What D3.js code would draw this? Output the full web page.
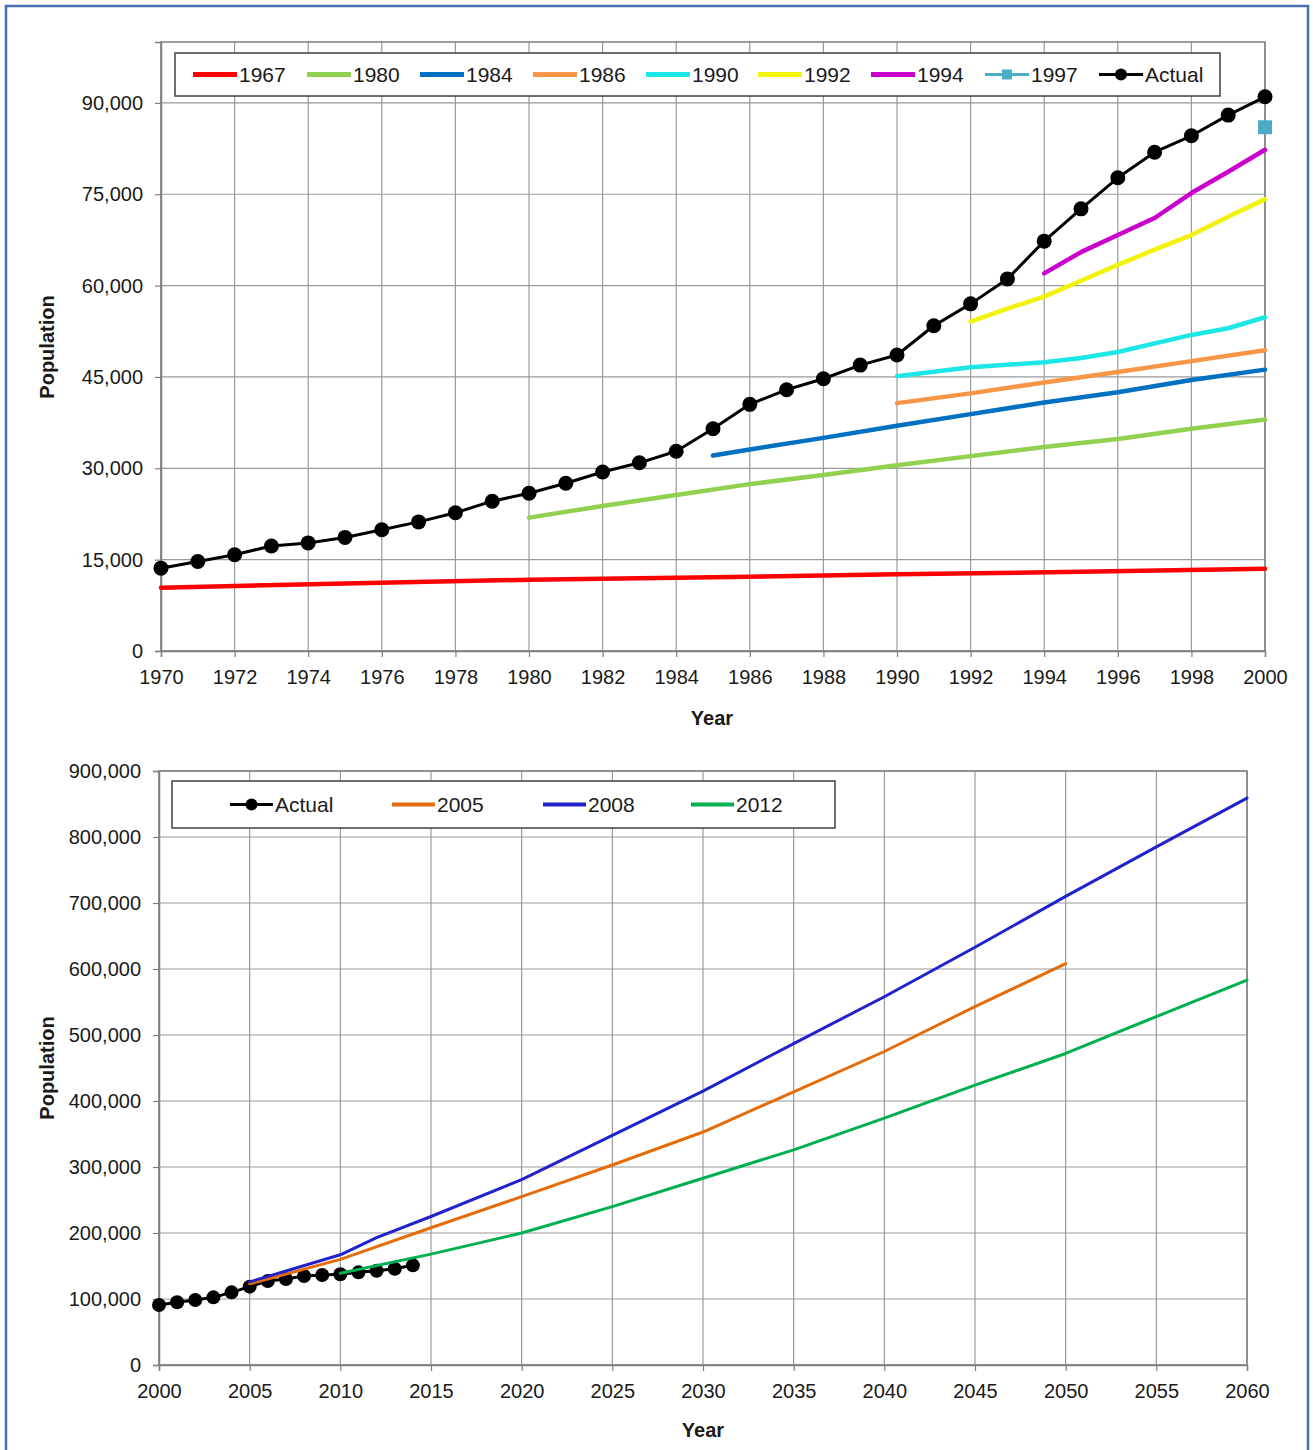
<!DOCTYPE html>
<html><head><meta charset="utf-8">
<script src="https://cdn.jsdelivr.net/npm/d3@7"></script>
<style>
body{margin:0;background:#fff;}
svg{display:block;}
text{font-family:"Liberation Sans",Arial,sans-serif;fill:#1a1a1a;}
</style>
</head><body>
<svg id="c" width="1313" height="1450"></svg>
<script>
// ---------------- DATA: top chart (1970-2000) ----------------
const topActualYears = [1970,1971,1972,1973,1974,1975,1976,1977,1978,1979,1980,1981,1982,1983,1984,1985,1986,1987,1988,1989,1990,1991,1992,1993,1994,1995,1996,1997,1998,1999,2000];
const topActualValues = [13600,14700,15800,17250,17750,18650,19900,21200,22700,24600,25900,27550,29400,30900,32800,36500,40500,42900,44700,46950,48600,53400,57000,61100,67300,72600,77700,81900,84600,88000,91000];

const p1967Years = [1970,1975,1980,1985,1990,1995,2000];
const p1967Values = [10400,11100,11700,12100,12600,13000,13500];

const p1980Years = [1980,1982,1984,1986,1988,1990,1992,1994,1996,1998,2000];
const p1980Values = [21900,23800,25600,27400,28900,30500,32000,33500,34800,36500,38000];

const p1984Years = [1985,1986,1988,1990,1992,1994,1996,1998,2000];
const p1984Values = [32100,33100,35000,37000,38900,40800,42500,44500,46200];

const p1986Years = [1990,1992,1994,1996,1998,2000];
const p1986Values = [40700,42300,44100,45800,47600,49400];

const p1990Years = [1990,1992,1994,1995,1996,1998,1999,2000];
const p1990Values = [45100,46600,47400,48100,49100,51900,53000,54800];

const p1992Years = [1992,1993,1994,1995,1996,1997,1998,1999,2000];
const p1992Values = [54100,56200,58200,60800,63400,65900,68300,71300,74200];

const p1994Years = [1994,1995,1996,1997,1998,1999,2000];
const p1994Values = [62000,65500,68300,71100,75200,78700,82300];

const p1997Years = [2000];
const p1997Values = [86000];

const topSeriesNames = ["1967","1980","1984","1986","1990","1992","1994","1997","Actual"];
const topYTicks = [0,15000,30000,45000,60000,75000,90000];
const topXTicks = [1970,1972,1974,1976,1978,1980,1982,1984,1986,1988,1990,1992,1994,1996,1998,2000];

// ---------------- DATA: bottom chart (2000-2060) ----------------
const botActualYears = [2000,2001,2002,2003,2004,2005,2006,2007,2008,2009,2010,2011,2012,2013,2014];
const botActualValues = [90900,95000,98500,102500,110100,118700,127300,130300,134800,136400,137400,140400,142900,145900,151000];

const b2005Years = [2005,2010,2015,2020,2025,2030,2035,2040,2045,2050];
const b2005Values = [123000,160000,208000,255000,303000,353000,414000,475000,543000,608000];

const b2008Years = [2005,2010,2012,2015,2020,2025,2030,2035,2040,2045,2050,2055,2060];
const b2008Values = [126000,167000,193000,225000,281000,348000,415000,487000,558000,633000,710000,785000,859000];

const b2012Years = [2010,2015,2020,2025,2030,2035,2040,2045,2050,2055,2060];
const b2012Values = [139000,168000,200000,240000,283000,326000,374000,424000,472000,528000,583000];

const botSeriesNames = ["Actual","2005","2008","2012"];
const botYTicks = [0,100000,200000,300000,400000,500000,600000,700000,800000,900000];
const botXTicks = [2000,2005,2010,2015,2020,2025,2030,2035,2040,2045,2050,2055,2060];

// ---------------- STYLES ----------------
const topColors = {"1967":"#ff0000","1980":"#92d050","1984":"#0070c0","1986":"#f79646","1990":"#1de6e6","1992":"#f2f20a","1994":"#cc00cc","1997":"#4bacc6","Actual":"#000000"};
const botColors = {"Actual":"#000000","2005":"#e46c0a","2008":"#2222cc","2012":"#00b050"};

const svg = d3.select("#c");
const fmt = d3.format(",");

// outer frame
svg.append("rect").attr("x",6).attr("y",6).attr("width",1302).attr("height",1470)
  .attr("fill","none").attr("stroke","#4a6fae").attr("stroke-width",2.5);

function drawChart(cfg){
  const g = svg.append("g");
  const x = d3.scaleLinear().domain(cfg.xDomain).range([cfg.left, cfg.right]);
  const y = d3.scaleLinear().domain(cfg.yDomain).range([cfg.bottom, cfg.top]);

  // grid
  g.append("g").selectAll("line").data(cfg.xTicks).join("line")
    .attr("x1",d=>x(d)).attr("x2",d=>x(d)).attr("y1",cfg.top).attr("y2",cfg.bottom)
    .attr("stroke","#9a9a9a").attr("stroke-width",1.2);
  g.append("g").selectAll("line").data(cfg.yTicks).join("line")
    .attr("x1",cfg.left).attr("x2",cfg.right).attr("y1",d=>y(d)).attr("y2",d=>y(d))
    .attr("stroke","#9a9a9a").attr("stroke-width",1.2);
  g.append("rect").attr("x",cfg.left).attr("y",cfg.top)
    .attr("width",cfg.right-cfg.left).attr("height",cfg.bottom-cfg.top)
    .attr("fill","none").attr("stroke","#7f7f7f").attr("stroke-width",1.5);

  // axes
  const ya = g.append("g").attr("transform",`translate(${cfg.left},0)`)
    .call(d3.axisLeft(y).tickValues(cfg.yTicks).tickFormat(fmt).tickSize(6).tickPadding(12));
  const xa = g.append("g").attr("transform",`translate(0,${cfg.bottom})`)
    .call(d3.axisBottom(x).tickValues(cfg.xTicks).tickFormat(d3.format("d")).tickSize(6).tickPadding(13));
  [ya,xa].forEach(a=>{
    a.select(".domain").attr("stroke","#7f7f7f").attr("stroke-width",1.5);
    a.selectAll(".tick line").attr("stroke","#7f7f7f").attr("stroke-width",1.2);
    a.selectAll(".tick text").attr("font-size",20).attr("fill","#1a1a1a")
      .attr("font-family","'Liberation Sans',Arial,sans-serif");
  });

  // titles
  g.append("text").attr("x",cfg.xTitleX).attr("y",cfg.xTitleY).attr("text-anchor","middle")
    .attr("font-size",20).attr("font-weight","bold").text("Year");
  g.append("text").attr("transform",`translate(${cfg.yTitleX},${cfg.yTitleY}) rotate(-90)`)
    .attr("text-anchor","middle").attr("font-size",20).attr("font-weight","bold").text("Population");

  // lines
  const line = d3.line().x(d=>x(d[0])).y(d=>y(d[1]));
  cfg.series.forEach(s=>{
    const pts = s.years.map((yr,i)=>[yr,s.values[i]]);
    if(pts.length>1){
      g.append("path").datum(pts).attr("d",line).attr("fill","none")
        .attr("stroke",s.color).attr("stroke-width",s.width)
        .attr("stroke-linejoin","round").attr("stroke-linecap","round");
    }
    if(s.marker==="circle"){
      g.append("g").selectAll("circle").data(pts).join("circle")
        .attr("cx",d=>x(d[0])).attr("cy",d=>y(d[1])).attr("r",s.r).attr("fill",s.color);
    } else if(s.marker==="square"){
      g.append("g").selectAll("rect").data(pts).join("rect")
        .attr("x",d=>x(d[0])-s.r).attr("y",d=>y(d[1])-s.r).attr("width",2*s.r).attr("height",2*s.r)
        .attr("fill",s.color);
    }
  });

  // legend
  const L = cfg.legend;
  g.append("rect").attr("x",L.x).attr("y",L.y).attr("width",L.w).attr("height",L.h)
    .attr("fill","#fff").attr("stroke","#404040").attr("stroke-width",1.5);
  const cy = L.y + L.h/2;
  L.items.forEach((s,i)=>{
    const x0 = L.xs[i];
    g.append("line").attr("x1",x0).attr("x2",x0+L.len).attr("y1",cy).attr("y2",cy)
      .attr("stroke",s.color).attr("stroke-width",s.marker?3:s.legendWidth);
    if(s.marker==="circle") g.append("circle").attr("cx",x0+L.len/2).attr("cy",cy).attr("r",6).attr("fill",s.color);
    if(s.marker==="square") g.append("rect").attr("x",x0+L.len/2-5).attr("y",cy-5).attr("width",10).attr("height",10).attr("fill",s.color);
    g.append("text").attr("x",x0+L.len+2).attr("y",cy+7).attr("font-size",21).text(s.name);
  });
}

// ---------- top chart ----------
const topSeriesData = {
  "1967":[p1967Years,p1967Values],"1980":[p1980Years,p1980Values],"1984":[p1984Years,p1984Values],
  "1986":[p1986Years,p1986Values],"1990":[p1990Years,p1990Values],"1992":[p1992Years,p1992Values],
  "1994":[p1994Years,p1994Values],"1997":[p1997Years,p1997Values],"Actual":[topActualYears,topActualValues]
};
const topSeries = topSeriesNames.map(n=>({
  name:n, years:topSeriesData[n][0], values:topSeriesData[n][1], color:topColors[n],
  width: n==="Actual"?3:4.5, legendWidth:5,
  marker: n==="Actual"?"circle":(n==="1997"?"square":null), r: n==="Actual"?7.5:7
}));
drawChart({
  left:161,right:1265,top:42,bottom:651,
  xDomain:[1970,2000], yDomain:[0,100000],
  xTicks:topXTicks, yTicks:topYTicks,
  xTitleX:712, xTitleY:725, yTitleX:54, yTitleY:347,
  series: topSeries,
  legend:{x:175,y:53,w:1045,h:43,len:44,xs:[193,307,420,533,646,758,871,985,1099],items:topSeries}
});

// ---------- bottom chart ----------
const botSeriesData = {"Actual":[botActualYears,botActualValues],"2005":[b2005Years,b2005Values],"2008":[b2008Years,b2008Values],"2012":[b2012Years,b2012Values]};
const botSeries = botSeriesNames.map(n=>({
  name:n, years:botSeriesData[n][0], values:botSeriesData[n][1], color:botColors[n],
  width: 3, legendWidth:4, marker: n==="Actual"?"circle":null, r:7
}));
drawChart({
  left:159,right:1247,top:771,bottom:1365,
  xDomain:[2000,2060], yDomain:[0,900000],
  xTicks:botXTicks, yTicks:botYTicks,
  xTitleX:703, xTitleY:1437, yTitleX:54, yTitleY:1068,
  series: botSeries,
  legend:{x:172,y:781,w:663,h:47,len:43,xs:[230,392,543,691],items:botSeries}
});
</script>
</body></html>
